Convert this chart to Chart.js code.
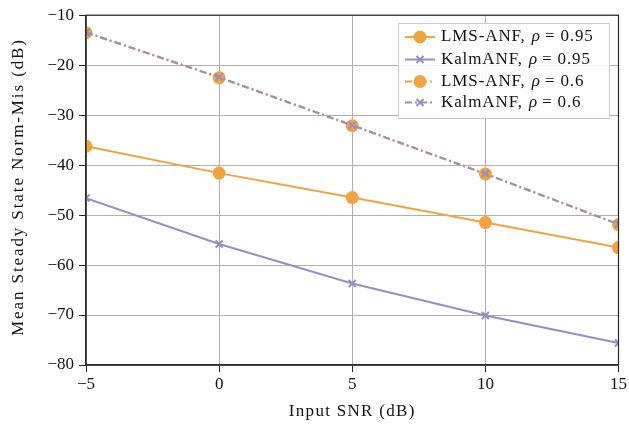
<!DOCTYPE html>
<html><head><meta charset="utf-8">
<script src="https://cdn.jsdelivr.net/npm/chart.js@4/dist/chart.umd.min.js"></script>
<style>html,body{margin:0;padding:0;background:#fff}#wrap{width:629px;height:424px}</style>
</head><body><div id="wrap"><canvas id="c" width="629" height="424"></canvas></div>
<script>
const snr = [-5, 0, 5, 10, 15];
const lmsRho095 = [-36.2, -41.6, -46.5, -51.5, -56.5];
const kalmRho095 = [-46.6, -55.8, -63.7, -70.1, -75.6];
const lmsRho06 = [-13.5, -22.5, -32.1, -41.8, -51.9];
const kalmRho06 = [-13.4, -22.4, -32.0, -41.7, -51.8];
const xTicks = [-5, 0, 5, 10, 15];
const yTicks = [-80, -70, -60, -50, -40, -30, -20, -10];
const labels = ['LMS-ANF', 'KalmANF', 'LMS-ANF', 'KalmANF'];
const rhoLabels = ['0.95', '0.95', '0.6', '0.6'];
const xTitle = 'Input SNR (dB)';
const yTitle = 'Mean Steady State Norm-Mis (dB)';

const ORANGE = '#f1a340', PURPLE = '#998ec3';
const FONT = '"Liberation Serif", "DejaVu Serif", serif';
const pts = a => snr.map((x, i) => ({x, y: a[i]}));
const dashDot = [7, 3, 2, 3];

const styles = [
  {c: ORANGE, p: 'circle', r: 6.5, dash: [], ord: 3},
  {c: PURPLE, p: 'crossRot', r: 5, dash: [], ord: 2},
  {c: ORANGE, p: 'circle', r: 6.5, dash: dashDot, ord: 1},
  {c: PURPLE, p: 'crossRot', r: 5, dash: dashDot, ord: 0}
];
const series = [lmsRho095, kalmRho095, lmsRho06, kalmRho06];

const datasets = series.map((s, i) => ({
  label: labels[i] + ', ρ = ' + rhoLabels[i],
  data: pts(s),
  borderColor: styles[i].c,
  backgroundColor: styles[i].c,
  pointBackgroundColor: styles[i].c,
  pointBorderColor: styles[i].c,
  pointStyle: styles[i].p,
  pointRadius: styles[i].r,
  pointBorderWidth: styles[i].p === 'circle' ? 0 : 2,
  borderWidth: 2,
  borderDash: styles[i].dash,
  order: styles[i].ord,
  tension: 0
}));

const minus = v => String(v).replace('-', '\u2212');

const framePlugin = {
  id: 'frame',
  afterDraw(chart) {
    const {ctx, chartArea: a} = chart;
    ctx.save();
    ctx.strokeStyle = '#262626';
    ctx.lineWidth = 1.2;
    ctx.strokeRect(a.left, a.top, a.right - a.left, a.bottom - a.top);
    // axis titles
    ctx.fillStyle = '#111';
    ctx.font = '17px ' + FONT;
    ctx.letterSpacing = '1.3px';
    ctx.textAlign = 'center';
    ctx.textBaseline = 'alphabetic';
    ctx.fillText(xTitle, (a.left + a.right) / 2, 416);
    ctx.save();
    ctx.translate(23, 187);
    ctx.rotate(-Math.PI / 2);
    ctx.letterSpacing = '1.9px';
    ctx.fillText(yTitle, 0, 0);
    ctx.restore();
    // legend
    const bx = 398, by = 23, bw = 211, bh = 95;
    ctx.fillStyle = 'rgba(255,255,255,0.9)';
    ctx.fillRect(bx, by, bw, bh);
    ctx.strokeStyle = '#cccccc';
    ctx.lineWidth = 1;
    ctx.strokeRect(bx + 0.5, by + 0.5, bw, bh);
    const rows = [37, 59.5, 81.5, 102.5];
    rows.forEach((yy, i) => {
      const st = styles[i];
      ctx.letterSpacing = '0px';
      ctx.strokeStyle = st.c;
      ctx.lineWidth = 2;
      ctx.setLineDash(st.dash);
      ctx.beginPath(); ctx.moveTo(405, yy); ctx.lineTo(435, yy); ctx.stroke();
      ctx.setLineDash([]);
      ctx.fillStyle = st.c;
      if (st.p === 'circle') { ctx.beginPath(); ctx.arc(420, yy, st.r, 0, Math.PI * 2); ctx.fill(); }
      else Chart.helpers.drawPoint(ctx, {pointStyle: st.p, radius: st.r, borderWidth: 2}, 420, yy);
      ctx.fillStyle = '#111';
      ctx.textBaseline = 'middle';
      ctx.textAlign = 'left';
      ctx.letterSpacing = '0.9px';
      ctx.font = '17px ' + FONT;
      let x = 441;
      const t1 = labels[i] + ', ';
      ctx.fillText(t1, x, yy); x += ctx.measureText(t1).width + 1;
      ctx.font = 'italic 17px ' + FONT;
      ctx.fillText('ρ', x, yy); x += ctx.measureText('ρ').width + 4;
      ctx.font = '17px ' + FONT;
      ctx.fillText('=', x, yy); x += ctx.measureText('=').width + 5;
      ctx.fillText(rhoLabels[i], x, yy);
    });
    ctx.restore();
  }
};

new Chart(document.getElementById('c'), {
  type: 'line',
  data: {datasets},
  options: {
    responsive: false,
    animation: false,
    devicePixelRatio: 1,
    layout: {padding: {left: 0, right: 9, top: 15, bottom: 0}},
    plugins: {legend: {display: false}, tooltip: {enabled: false}},
    scales: {
      x: {
        type: 'linear', min: -5, max: 15,
        afterBuildTicks: s => { s.ticks = xTicks.map(v => ({value: v})); },
        afterFit: s => { s.height = 59; },
        ticks: {callback: v => minus(v), color: '#111', font: {family: FONT, size: 17}, padding: 2, maxRotation: 0},
        grid: {color: '#b0b0b0', lineWidth: 1, tickColor: '#262626', tickLength: 7},
        border: {color: '#262626', width: 1.2}
      },
      y: {
        type: 'linear', min: -80, max: -10,
        afterBuildTicks: s => { s.ticks = yTicks.map(v => ({value: v})); },
        afterFit: s => { s.width = 86; },
        ticks: {callback: v => minus(v), color: '#111', font: {family: FONT, size: 17}, padding: 5},
        grid: {color: '#b0b0b0', lineWidth: 1, tickColor: '#262626', tickLength: 7},
        border: {color: '#262626', width: 1.2}
      }
    }
  },
  plugins: [framePlugin]
});
</script>
</body></html>
